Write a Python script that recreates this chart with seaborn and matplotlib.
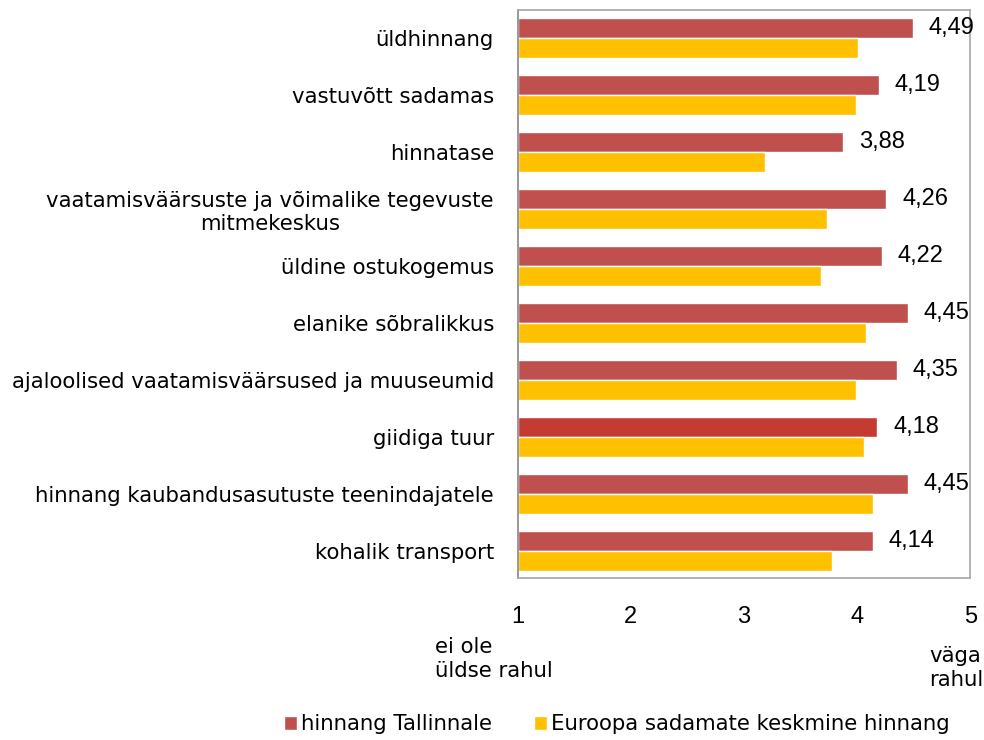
import pandas as pd
import matplotlib
matplotlib.use("Agg")
import matplotlib.pyplot as plt
import seaborn as sns
from matplotlib.patches import Patch

# ==========================================
# DATA
# ==========================================
categories = [
    "üldhinnang",
    "vastuvõtt sadamas",
    "hinnatase",
    "vaatamisväärsuste ja võimalike tegevuste\nmitmekeskus",
    "üldine ostukogemus",
    "elanike sõbralikkus",
    "ajaloolised vaatamisväärsused ja muuseumid",
    "giidiga tuur",
    "hinnang kaubandusasutuste teenindajatele",
    "kohalik transport",
]
tallinn = [4.49, 4.19, 3.88, 4.26, 4.22, 4.45, 4.35, 4.18, 4.45, 4.14]
europe = [4.01, 3.99, 3.19, 3.73, 3.68, 4.08, 3.99, 4.06, 4.14, 3.78]
series_names = ["hinnang Tallinnale", "Euroopa sadamate keskmine hinnang"]
x_ticks = [1, 2, 3, 4, 5]

red = "#C0504D"
red_hl = "#C33B31"
yellow = "#FFC000"

df = pd.DataFrame({
    "kategooria": categories * 2,
    "hinnang": tallinn + europe,
    "seeria": [series_names[0]] * len(categories) + [series_names[1]] * len(categories),
})

# ==========================================
# PLOT
# ==========================================
sns.set_style("white")
plt.rcParams["font.family"] = ["DejaVu Sans"]
plt.rcParams["text.color"] = "black"
plt.rcParams["xtick.color"] = "black"
plt.rcParams["ytick.color"] = "black"

fig = plt.figure(figsize=(9.84, 7.4), dpi=100)
ax = fig.add_axes([0.526, 0.219, 0.46, 0.767])

sns.barplot(data=df, y="kategooria", x="hinnang", hue="seeria", orient="h",
            palette=[red, yellow], width=0.7, saturation=1, ax=ax, legend=False)

# the guided tour bar is a slightly different shade in the original
ax.containers[0][categories.index("giidiga tuur")].set_facecolor(red_hl)

# bars start at 1 (scale 1..5)
for cont in ax.containers:
    for bar in cont:
        w = bar.get_width()
        bar.set_x(1)
        bar.set_width(w - 1)

for bar, v in zip(ax.containers[0], tallinn):
    ax.text(v + 0.14, bar.get_y() + bar.get_height() / 2, f"{v:.2f}".replace(".", ","),
            va="center", ha="left", fontsize=17, family="Liberation Sans")

ax.set_xlim(1, 5)
ax.set_ylim(9.48, -0.49)
ax.set_xticks(x_ticks)
ax.set_xticklabels([str(t) for t in x_ticks], family="Liberation Sans", fontsize=17)
ax.tick_params(axis="x", pad=20, length=0)
ax.tick_params(axis="y", pad=17, length=0, labelsize=15.3)
for lbl in ax.get_yticklabels():
    lbl.set_multialignment("center")
ax.set_xlabel("")
ax.set_ylabel("")

for s in ax.spines.values():
    s.set_color("#A6A6A6")
    s.set_linewidth(1.2)
    s.set_visible(True)
ax.spines["left"].set_color("#868686")

fig.text(0.442, 0.110, "ei ole\nüldse rahul", fontsize=15.3, ha="left", va="center",
         linespacing=1.25)
fig.text(0.944, 0.097, "väga\nrahul", fontsize=15.3, ha="left", va="center",
         linespacing=1.25)

handles = [Patch(facecolor=red), Patch(facecolor=yellow)]
fig.legend(handles, series_names, loc="center", bbox_to_anchor=(0.627, 0.021),
           ncol=2, frameon=False, fontsize=15.3, handlelength=0.6, handleheight=0.6,
           handletextpad=0.2, columnspacing=2.0)

plt.savefig("out.png", dpi=100)
